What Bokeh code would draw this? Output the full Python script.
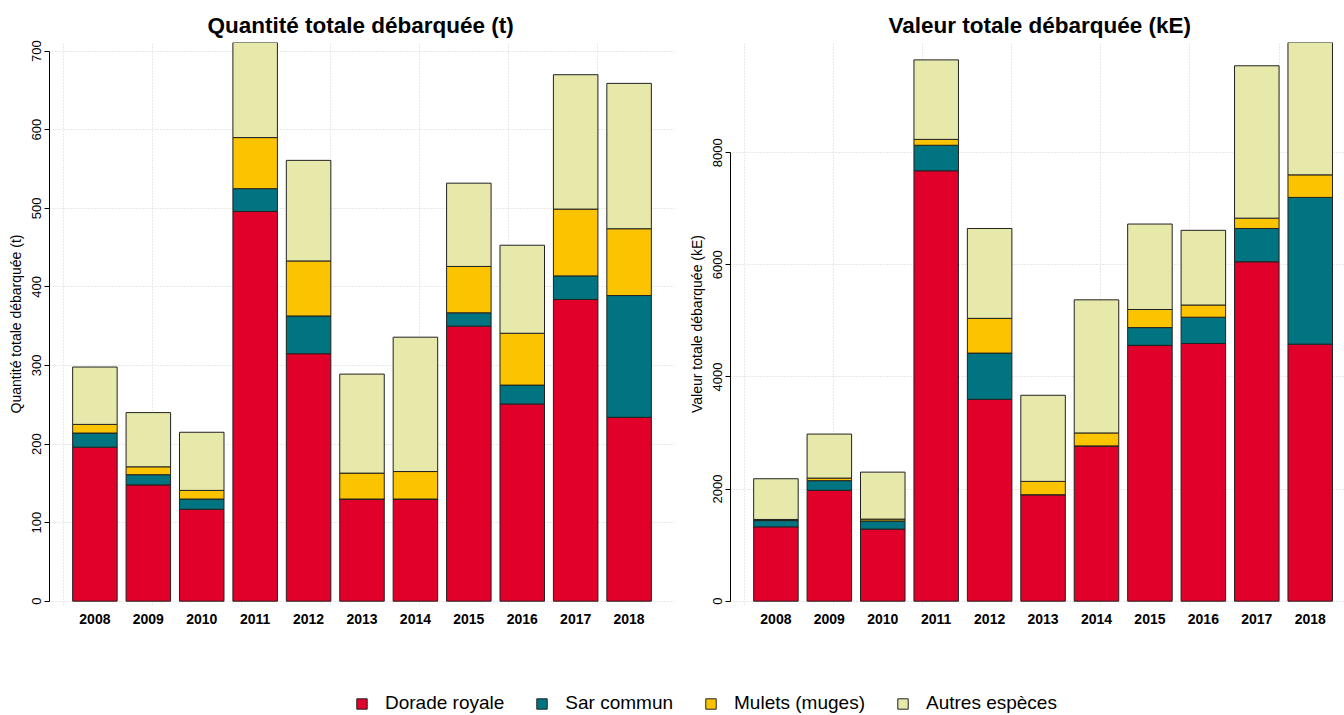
from bokeh.plotting import figure
from bokeh.models import ColumnDataSource, FixedTicker, Range1d, Legend, LegendItem
from bokeh.layouts import column, row
from bokeh.embed import file_html
from bokeh.resources import INLINE

# ---------------- data ----------------
years = ["2008", "2009", "2010", "2011", "2012", "2013", "2014", "2015", "2016", "2017", "2018"]
species = ["Dorade royale", "Sar commun", "Mulets (muges)", "Autres espèces"]
colors = ["#E1002A", "#007480", "#FCC300", "#E7E9AB"]

# Quantité totale débarquée (t)
dorade_t = [196, 148, 117, 496, 315, 130, 130, 350, 251, 384, 234]
sar_t = [18, 13, 13, 29, 48, 0, 0, 17, 24, 30, 155]
mulets_t = [11, 10, 11, 65, 70, 33, 35, 59, 66, 85, 85]
autres_t = [73, 69, 74, 121, 128, 126, 171, 106, 112, 171, 185]

# Valeur totale débarquée (kE)
dorade_v = [1326, 1978, 1286, 7677, 3601, 1899, 2770, 4564, 4597, 6054, 4584]
sar_v = [112, 172, 145, 455, 824, 0, 0, 316, 468, 594, 2618]
mulets_v = [20, 46, 33, 105, 620, 238, 231, 323, 218, 184, 402]
autres_v = [726, 785, 838, 1418, 1603, 1536, 2374, 1524, 1332, 2718, 2361]

yticks_t = [0, 100, 200, 300, 400, 500, 600, 700]
yticks_v = [0, 2000, 4000, 6000, 8000]

# ---------------- geometry (R barplot style: width 1, space 0.2, scaled x10) ----------------
BAR_W = 10
SPACE = 2
x_centers = [SPACE + BAR_W // 2 + i * (BAR_W + SPACE) for i in range(len(years))]
x_grid = [0, 20, 40, 60, 80, 100, 120]

FONT = "Liberation Sans"


def make_chart(title, ylabel, series, yticks, width, border_left, border_right, x_end):
    totals = [sum(v) for v in zip(*series)]
    ymax = max(totals)
    keys = ["s0", "s1", "s2", "s3"]
    data = {"x": x_centers}
    for k, s in zip(keys, series):
        data[k] = s
    src = ColumnDataSource(data)

    p = figure(width=width, height=630,
               x_range=Range1d(-3.2, x_end),
               y_range=Range1d(-0.0077 * ymax, ymax * 1.0),
               output_backend="svg", toolbar_location=None,
               min_border_left=border_left, min_border_right=border_right,
               min_border_top=42, min_border_bottom=25,
               title=title)
    p.title.align = "left"
    p.title.offset = 158
    p.title.text_font = FONT
    p.title.text_font_size = "22.5px"
    p.title.text_font_style = "bold"
    p.title.text_color = "black"
    p.title.standoff = 10

    p.vbar_stack(keys, x="x", width=BAR_W, fill_color=colors,
                 line_color="#222222", line_width=1, source=src)

    p.outline_line_color = None
    p.background_fill_color = "white"
    p.border_fill_color = "white"

    # grid
    p.xgrid.ticker = FixedTicker(ticks=x_grid)
    p.ygrid.ticker = FixedTicker(ticks=yticks)
    for g in (p.xgrid, p.ygrid):
        g.grid_line_color = "#D3D3D3"
        g.grid_line_dash = "1 2"
        g.grid_line_width = 1

    # x axis
    xa = p.xaxis[0]
    xa.ticker = FixedTicker(ticks=x_centers)
    xa.major_label_overrides = {c: y for c, y in zip(x_centers, years)}
    xa.axis_line_color = None
    xa.major_tick_line_color = None
    xa.minor_tick_line_color = None
    xa.major_label_text_font = FONT
    xa.major_label_text_font_size = "14px"
    xa.major_label_text_font_style = "bold"
    xa.major_label_text_color = "black"
    xa.major_label_standoff = 2

    # y axis
    ya = p.yaxis[0]
    ya.ticker = FixedTicker(ticks=yticks)
    ya.bounds = (yticks[0], yticks[-1])
    ya.major_label_orientation = "vertical"
    ya.major_tick_out = 5
    ya.major_tick_in = 0
    ya.minor_tick_line_color = None
    ya.axis_line_color = "black"
    ya.major_tick_line_color = "black"
    ya.major_label_text_font = FONT
    ya.major_label_text_font_size = "13px"
    ya.major_label_text_color = "black"
    ya.major_label_standoff = 3
    ya.axis_label = ylabel
    ya.axis_label_text_font = FONT
    ya.axis_label_text_font_size = "14px"
    ya.axis_label_text_font_style = "normal"
    ya.axis_label_text_color = "black"
    ya.axis_label_standoff = 6
    return p


p1 = make_chart("Quantité totale débarquée (t)", "Quantité totale débarquée (t)",
                [dorade_t, sar_t, mulets_t, autres_t], yticks_t, 684, 49, 10, 137.2)
p2 = make_chart("Valeur totale débarquée (kE)", "Valeur totale débarquée (kE)",
                [dorade_v, sar_v, mulets_v, autres_v], yticks_v, 660, 46, 0, 134.7)

# ---------------- legend strip ----------------
lf = figure(width=1344, height=85, x_range=Range1d(0, 1), y_range=Range1d(0, 1),
            output_backend="svg", toolbar_location=None, min_border=0)
lf.axis.visible = False
lf.grid.visible = False
lf.outline_line_color = None
rends = [lf.vbar(x=[5], top=[5], bottom=[4], width=0.1, fill_color=c,
                 line_color="#222222", line_width=1)
         for c in colors]
legend = Legend(items=[LegendItem(label=s, renderers=[r]) for s, r in zip(species, rends)],
                orientation="horizontal", location=(355, 1),
                glyph_width=13, glyph_height=13, label_standoff=17, spacing=31,
                padding=0, margin=0, border_line_color=None, background_fill_alpha=0,
                label_text_font=FONT, label_text_font_size="19px", label_text_color="black")
lf.add_layout(legend)

layout = column(row(p1, p2), lf)

open("out.html", "w").write(file_html(layout, INLINE))
